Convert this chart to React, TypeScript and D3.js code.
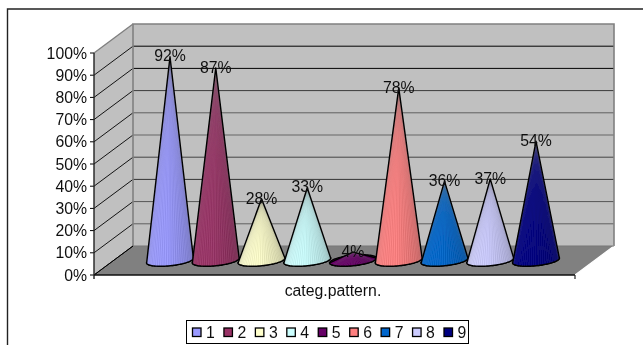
import React from "react";
import * as d3 from "d3";

const categories = [1, 2, 3, 4, 5, 6, 7, 8, 9];
const values = [0.92, 0.87, 0.28, 0.33, 0.04, 0.78, 0.36, 0.37, 0.54];
const colors = ["#9999FF", "#993366", "#FFFFCC", "#CCFFFF", "#660066", "#FF8080", "#0066CC", "#CCCCFF", "#000080"];
const ticks = [0, 0.1, 0.2, 0.3, 0.4, 0.5, 0.6, 0.7, 0.8, 0.9, 1];
const gridTones = ["#707070", "#606060", "#555555", "#333333", "#444444", "#666666", "#606060", "#3a3a3a", "#000000", "#000000", "#808080"];
const axisTitle = "categ.pattern.";

const FONT = "'Liberation Sans', Arial, sans-serif";
const W = 643, H = 345;
const dx = 39, dy = -29;
const x0 = 94, x1 = 575;
const yFront = d3.scaleLinear().domain([0, 1]).range([275, 53]);
const yCone = d3.scaleLinear().domain([0, 1]).range([261, 39]);
const xCone = d3.scaleLinear().domain([1, 9]).range([170, 536]);
const fmt = d3.format(".0%");
const line = d3.line();
const RX = 23.5, RY = 5.2, TILT = (-6 * Math.PI) / 180;
const BASE_Y = 260.5;

function rimPoint(cx: number, a: number): [number, number] {
  const px = RX * Math.cos(a), py = RY * Math.sin(a);
  return [cx + px * Math.cos(TILT) - py * Math.sin(TILT), BASE_Y + px * Math.sin(TILT) + py * Math.cos(TILT)];
}

function Cone({ i }: { i: number }) {
  const cx = xCone(categories[i]);
  const tipY = yCone(values[i]);
  const rim = d3.range(0, 41).map((k) => rimPoint(cx, Math.PI - (k / 40) * Math.PI));
  const outline = line([[cx, tipY], ...rim])! + "Z";
  const back = d3.range(0, 41).map((k) => rimPoint(cx, Math.PI + (k / 40) * Math.PI));
  const full = line([...rim, ...back])! + "Z";
  const spokes = d3.range(0, 60).map((k) => rimPoint(cx, Math.PI - ((k + 0.5) / 60) * Math.PI));
  const clip = `cone-clip-${i}`;
  return (
    <g>
      <clipPath id={clip}>
        <path d={outline} />
      </clipPath>
      <path d={full} fill={`url(#cone-grad-${i})`} stroke="#000" strokeWidth={1.4} />
      <path d={outline} fill={`url(#cone-grad-${i})`} />
      <g clipPath={`url(#${clip})`}>
        {spokes.map((p, k) => (
          <line key={k} x1={cx} y1={tipY} x2={p[0]} y2={p[1] + 3} stroke={k % 2 ? "#ffffff" : "#000000"} strokeOpacity={0.12} strokeWidth={0.6} />
        ))}
      </g>
      <path d={outline} fill="none" stroke="#000" strokeWidth={1.4} strokeLinejoin="round" />
    </g>
  );
}

export default function App() {
  return (
    <svg width={W} height={H} style={{ position: "absolute", left: 0, top: 0, background: "#fff" }} fontFamily={FONT}>
      <defs>
        {colors.map((c, i) => {
          const col = d3.color(c)!;
          return (
            <linearGradient key={i} id={`cone-grad-${i}`} x1="0" x2="1" y1="0" y2="0">
              <stop offset="0" stopColor={col.brighter(0.1).formatHex()} />
              <stop offset="0.45" stopColor={c} />
              <stop offset="1" stopColor={col.darker(0.55).formatHex()} />
            </linearGradient>
          );
        })}
        <filter id="soft" x="0" y="0" width="100%" height="100%">
          <feGaussianBlur stdDeviation="0.3" />
        </filter>
      </defs>

      <g filter="url(#soft)">
        <rect width={W} height={H} fill="#fff" />
        {/* outer frame */}
        <path d={`M7.5 ${H + 2} V9 H${W + 2}`} fill="none" stroke="#222" strokeWidth={1.4} />

        {/* walls and floor */}
        <path d={line([[x0, yFront(0)], [x0 + dx, yFront(0) + dy], [x1 + dx, yFront(0) + dy], [x1, yFront(0)]])! + "Z"} fill="#808080" />
        <path d={line([[x0, yFront(0)], [x0, yFront(1)], [x0 + dx, yFront(1) + dy], [x0 + dx, yFront(0) + dy]])! + "Z"} fill="#C0C0C0" />
        <rect x={x0 + dx} y={yFront(1) + dy} width={x1 - x0} height={yFront(0) - yFront(1)} fill="#C0C0C0" />

        {/* gridlines */}
        {ticks.map((t, i) => (
          <g key={t}>
            {t > 0 && t < 1 && (
              <line x1={x0 + dx} x2={x1 + dx} y1={yFront(t) + dy} y2={yFront(t) + dy} stroke={gridTones[i]} strokeWidth={1} />
            )}
            <line x1={x0} x2={x0 + dx} y1={yFront(t)} y2={yFront(t) + dy} stroke={t === 1 ? "#808080" : "#000"} strokeWidth={t === 1 ? 1.4 : 0.9} />
            <line x1={x0 - 4} x2={x0} y1={yFront(t)} y2={yFront(t)} stroke="#000" strokeWidth={1} />
            <text x={87} y={yFront(t)} dy="0.36em" textAnchor="end" fontSize={15.8} fill="#111">
              {fmt(t)}
            </text>
          </g>
        ))}

        {/* wall borders */}
        <path d={`M${x0 + dx} ${yFront(0) + dy} V${yFront(1) + dy} H${x1 + dx} V${yFront(0) + dy}`} fill="none" stroke="#808080" strokeWidth={1.6} />
        <line x1={x0} x2={x0 + dx} y1={yFront(0)} y2={yFront(0) + dy} stroke="#000" strokeWidth={1} />
        <line x1={x1} x2={x1 + dx} y1={yFront(0)} y2={yFront(0) + dy} stroke="#fff" strokeWidth={1.2} />
        <line x1={x0 + dx} x2={x1 + dx} y1={yFront(0) + dy} y2={yFront(0) + dy} stroke="#777" strokeWidth={1} />

        {/* front axes */}
        <line x1={x0} x2={x0} y1={yFront(1)} y2={yFront(0) + 4} stroke="#222" strokeWidth={1.4} />
        <line x1={x0} x2={x1} y1={yFront(0)} y2={yFront(0)} stroke="#111" strokeWidth={1.4} />
        <line x1={x1} x2={x1} y1={yFront(0)} y2={yFront(0) + 4} stroke="#222" strokeWidth={1.2} />

        {/* cones */}
        {categories.map((_, i) => (
          <Cone key={i} i={i} />
        ))}

        {/* data labels */}
        {values.map((v, i) => (
          <text key={i} x={xCone(categories[i])} y={yCone(v) - 1} dy="0.36em" textAnchor="middle" fontSize={15.8} fill="#111">
            {fmt(v)}
          </text>
        ))}

        <text x={333} y={296} textAnchor="middle" fontSize={15.8} fill="#111">
          {axisTitle}
        </text>

        {/* legend */}
        <rect x={186.5} y={320.5} width={282} height={23} fill="#fff" stroke="#000" strokeWidth={1} />
        {categories.map((c, i) => {
          const lx = d3.scaleLinear().domain([1, 9]).range([192, 443.5])(c);
          return (
            <g key={c}>
              <rect x={lx + 0.5} y={328} width={8.5} height={8.5} fill={colors[i]} stroke="#000" strokeWidth={1.3} />
              <text x={lx + 14} y={338} fontSize={15.8} fill="#111">
                {c}
              </text>
            </g>
          );
        })}
      </g>
    </svg>
  );
}
